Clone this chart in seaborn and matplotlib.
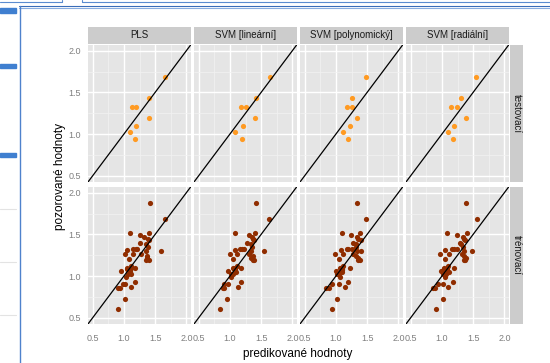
import numpy as np
import pandas as pd
import matplotlib
matplotlib.use("Agg")
import matplotlib.pyplot as plt
import seaborn as sns
from matplotlib.patches import Rectangle
from matplotlib.lines import Line2D

# === DATA ===
models = ["PLS", "SVM [lineární]", "SVM [polynomický]", "SVM [radiální]"]
sets = ["testovací", "trénovací"]

# testovaci mnozina (pozorovane + predikce jednotlivych modelu)
test_obs = [1.69, 1.43, 1.33, 1.33, 1.19, 1.10, 1.03, 0.94]
test_pls = [1.665, 1.41, 1.13, 1.20, 1.41, 1.19, 1.09, 1.17]
test_lin = [1.65, 1.42, 1.18, 1.255, 1.40, 1.21, 1.075, 1.20]
test_poly = [1.48, 1.26, 1.175, 1.25, 1.345, 1.22, 1.12, 1.20]
test_rad = [1.55, 1.31, 1.145, 1.235, 1.38, 1.20, 1.105, 1.18]

# trenovaci mnozina
train_obs = [1.88, 1.69, 1.52, 1.49, 1.52, 1.47, 1.43, 1.40, 1.39, 1.33,
             1.33, 1.31, 1.27, 1.26, 1.26, 1.30, 1.30, 1.24, 1.19, 1.19,
             1.20, 1.10, 1.10, 1.10, 1.06, 1.07, 1.03, 0.99, 0.93, 0.91,
             0.91, 0.86, 0.86, 0.87, 0.72, 0.61, 1.12, 1.05, 1.45, 1.35,
             1.02, 1.08, 1.22, 1.33]
train_pls = [1.415, 1.665, 1.09, 1.26, 1.405, 1.33, 1.41, 1.265, 1.36, 1.145,
             1.20, 1.05, 1.15, 1.015, 1.27, 1.36, 1.60, 1.365, 1.355, 1.41,
             1.075, 1.045, 1.12, 1.18, 0.955, 1.095, 1.065, 1.035, 1.17, 0.98,
             1.015, 0.905, 0.93, 1.11, 1.025, 0.91, 1.12, 1.10, 1.38, 1.38,
             1.12, 1.05, 1.37, 1.21]
train_lin = [1.415, 1.63, 1.085, 1.30, 1.40, 1.36, 1.385, 1.28, 1.345, 1.23,
             1.16, 1.08, 1.115, 0.995, 1.30, 1.335, 1.545, 1.365, 1.37, 1.385,
             1.045, 1.055, 1.08, 1.185, 0.975, 1.08, 1.015, 1.015, 1.175, 0.905,
             0.975, 0.885, 0.90, 1.13, 0.955, 0.845, 1.11, 1.09, 1.37, 1.35,
             1.05, 1.07, 1.34, 1.20]
train_poly = [1.345, 1.485, 1.095, 1.235, 1.39, 1.335, 1.41, 1.275, 1.315, 1.265,
              1.175, 1.08, 1.115, 0.99, 1.275, 1.345, 1.40, 1.33, 1.35, 1.38,
              1.05, 1.065, 1.075, 1.225, 1.0, 1.09, 1.025, 1.065, 1.195, 0.935,
              1.045, 0.84, 0.89, 1.14, 1.025, 0.93, 1.11, 1.10, 1.36, 1.33,
              1.05, 1.10, 1.36, 1.19]
train_rad = [1.38, 1.555, 1.08, 1.24, 1.40, 1.335, 1.365, 1.285, 1.30, 1.235,
             1.155, 1.045, 1.12, 0.975, 1.325, 1.35, 1.49, 1.35, 1.37, 1.35,
             1.05, 1.03, 1.075, 1.20, 0.99, 1.075, 1.02, 1.05, 1.18, 0.93,
             1.025, 0.85, 0.885, 1.105, 1.01, 0.91, 1.10, 1.11, 1.35, 1.34,
             1.06, 1.04, 1.38, 1.20]

# sestaveni dlouhe tabulky
rows = []
for m, tp, trp in zip(models,
                      [test_pls, test_lin, test_poly, test_rad],
                      [train_pls, train_lin, train_poly, train_rad]):
    for p, o in zip(tp, test_obs):
        rows.append((m, sets[0], p, o))
    for p, o in zip(trp, train_obs):
        rows.append((m, sets[1], p, o))
df = pd.DataFrame(rows, columns=["model", "mnozina", "pred", "obs"])

# === VZHLED (ggplot2 styl) ===
sns.set_theme(style="darkgrid")
plt.rcParams["font.family"] = ["Liberation Sans", "DejaVu Sans"]

W, H = 550, 363
fig = plt.figure(figsize=(W / 100, H / 100), dpi=100)
fig.patch.set_facecolor("white")

def px_box(x0, y0, x1, y1):
    # prevod pixelu (od leveho horniho rohu) na souradnice figury
    return [x0 / W, 1 - y1 / H, (x1 - x0) / W, (y1 - y0) / H]

colors = {"testovací": "#FF9A22", "trénovací": "#902D00"}
col_x = [88, 194, 300, 406]
pan_w = 103
row_y = [(44.5, 182), (186.5, 324)]
lim = (0.425, 2.075)
major = [0.5, 1.0, 1.5, 2.0]
minor = [0.75, 1.25, 1.75]
labels = ["0.5", "1.0", "1.5", "2.0"]

for r, s in enumerate(sets):
    for c, m in enumerate(models):
        ax = fig.add_axes(px_box(col_x[c], row_y[r][0], col_x[c] + pan_w, row_y[r][1]))
        ax.set_facecolor("#E5E5E5")
        sub = df[(df["model"] == m) & (df["mnozina"] == s)]
        sns.scatterplot(data=sub, x="pred", y="obs", ax=ax, color=colors[s],
                        s=14, linewidth=0, legend=False, zorder=3)
        ax.axline((0, 0), slope=1, color="black", lw=0.9, zorder=4)
        ax.set_xlim(lim)
        ax.set_ylim(lim)
        ax.set_xticks(major)
        ax.set_yticks(major)
        ax.set_xticks(minor, minor=True)
        ax.set_yticks(minor, minor=True)
        ax.grid(which="major", color="white", lw=1.0)
        ax.grid(which="minor", color="#F2F2F2", lw=0.5)
        ax.set_axisbelow(True)
        for sp in ax.spines.values():
            sp.set_visible(False)
        ax.set_xlabel("")
        ax.set_ylabel("")
        ax.tick_params(which="minor", length=0)
        ax.tick_params(which="major", length=3, width=0.6, color="#7F7F7F",
                       labelsize=6.5, labelcolor="#7F7F7F")
        ax.tick_params(axis="x", pad=4.5)
        ax.tick_params(axis="y", pad=2)
        if c > 0:
            ax.tick_params(axis="y", left=False, labelleft=False)
        else:
            ax.set_yticklabels(labels)
        if r == 0:
            ax.tick_params(axis="x", bottom=False, labelbottom=False)
        else:
            ax.set_xticklabels(labels)

        # pasky s nazvy modelu
        if r == 0:
            sax = fig.add_axes(px_box(col_x[c], 27, col_x[c] + pan_w, 43.5))
            sax.set_facecolor("#CCCCCC")
            sax.set_xticks([]); sax.set_yticks([])
            for sp in sax.spines.values():
                sp.set_visible(False)
            sax.text(0.5, 0.5, m, ha="center", va="center", fontsize=7,
                     color="#1A1A1A", transform=sax.transAxes)
    # pasky s nazvy mnozin vpravo
    rax = fig.add_axes(px_box(510, row_y[r][0], 523, row_y[r][1]))
    rax.set_facecolor("#CCCCCC")
    rax.set_xticks([]); rax.set_yticks([])
    for sp in rax.spines.values():
        sp.set_visible(False)
    rax.text(0.5, 0.5, s, ha="center", va="center", fontsize=7, rotation=-90,
             color="#1A1A1A", transform=rax.transAxes)

fig.text(298 / W, 1 - 354 / H, "predikované hodnoty", ha="center", va="center",
         fontsize=8.5, color="black")
fig.text(60 / W, 1 - 176 / H, "pozorované hodnoty", ha="center", va="center",
         fontsize=8.5, color="black", rotation=90)

# okraje stranky ze screenshotu
def hline(y, x0, x1, color, lw):
    fig.add_artist(Line2D([x0 / W, x1 / W], [1 - y / H, 1 - y / H],
                          color=color, lw=lw, transform=fig.transFigure))

def vline(x, y0, y1, color, lw):
    fig.add_artist(Line2D([x / W, x / W], [1 - y0 / H, 1 - y1 / H],
                          color=color, lw=lw, transform=fig.transFigure))

hline(1.5, 0, 62, "#5B8CD0", 0.8)
vline(62, 0, 1.5, "#5B8CD0", 0.8)
hline(2, 82, 550, "#5B8CD0", 0.8)
vline(82, 0, 2, "#5B8CD0", 0.8)
hline(6, 19, 550, "#3A6DB8", 0.8)
hline(8, 19, 550, "#8AAEE0", 0.8)
vline(19.5, 6, 363, "#4F82CC", 1.0)
for yb in [10.5, 66, 155]:
    fig.add_artist(Rectangle((0, 1 - (yb + 2.2) / H), 16 / W, 4.4 / H,
                             color="#3F7FD0", transform=fig.transFigure))
for yg in [209, 262, 315]:
    hline(yg, 0, 16, "#E3E3E3", 0.8)

fig.savefig("out.png", dpi=100)
